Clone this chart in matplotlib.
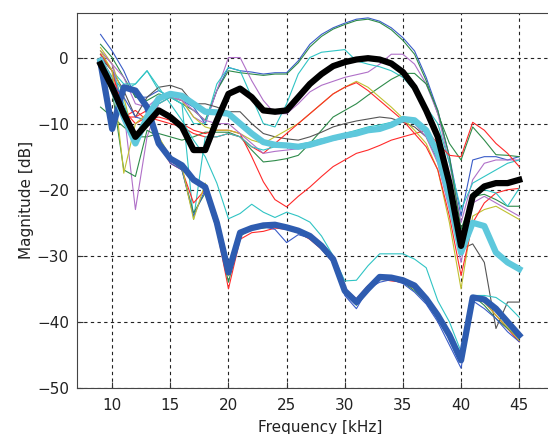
import numpy as np
import matplotlib
matplotlib.use('Agg')
import matplotlib.pyplot as plt

# frequency points [kHz]
freq = list(range(9, 46))

# thin lines (individual measurements)
blue1 = [3.5, 1, -2, -6, -6, -5, -6, -6.5, -7.5, -10, -5, -1.5, -2, -2.2, -2.5, -2.3, -2.3, -0.5, 2, 3.5, 4.5, 5.2, 5.8,
         6, 5.5, 4.5, 3, 1, -3, -8, -15, -24, -15.5, -15, -15, -15.5, -15]
green2 = [2, 0, -3, -6, -6.5, -5.5, -6, -7, -8, -9.5, -5, -2, -2.3, -2.5, -2.7, -2.5, -2.5, -0.8, 1.6, 3.2, 4.3, 5, 5.6,
          5.8, 5.3, 4.2, 2.6, 0.5, -3.5, -8.5, -13, -15.5, -10.5, -12.5, -14.7, -14.8, -15]
purple1 = [1, -1, -3, -7, -7.5, -6, -5.5, -6.5, -9, -10, -5, 0, 0, -3.5, -6.5, -8.5, -8.5, -7, -5.2, -4.2, -3.6, -3, -2.6,
           -2.2, -1, 0.5, 0.5, -1, -4, -8.5, -16, -25, -18.5, -16, -15.5, -15.5, -15.5]
cyan1 = [0, -2, -4, -4, -2, -5, -6, -7, -10, -10, -4, -1.5, -2, -6, -10, -10.5, -7, -2.5, 0, 0.8, 1, 1.2, -0.5,
         -1, -1.4, -2, -3, -5, -7.5, -10, -16, -23, -19, -18, -17, -16, -15.5]
green1 = [-7.5, -9, -10.5, -12, -12, -11.5, -12, -12.5, -12, -11.3, -11.3, -11.3, -12, -14, -15.8, -15.6, -15.3, -14.8,
          -13, -11, -9, -8, -7, -5.7, -4.5, -3.3, -2.4, -2.4, -4, -8, -15, -26, -21, -20.7, -21.5, -22.5, -22.5]
red1 = [0, -3, -9, -8, -9.5, -9, -9.5, -10, -11, -11.5, -11, -11, -11.5, -15, -18.8, -21.5, -22.6, -21, -19.6, -18,
        -16.5, -15.5, -14.5, -14, -13.3, -12.5, -12, -11.5, -11, -13, -14.8, -15, -9.8, -11, -13, -14.5, -16.5]
gray = [0, -2, -5, -9, -6, -4.5, -4.2, -4.8, -7, -7, -7.5, -8.2, -8.2, -10, -11.5, -12, -12.3, -12.5, -12, -11.3, -10.5,
        -10, -9.6, -9.3, -9, -9.2, -9.8, -10.5, -12, -15.5, -22, -29, -28.2, -31, -41, -37, -37]
yellow1 = [1.5, -1, -6, -13, -10, -7, -6, -6.5, -9, -10.5, -11, -11, -11.5, -12.5, -13, -12, -11, -10, -8.5, -7, -5.5,
           -4.5, -3.6, -4.5, -6, -7.5, -9.2, -11, -13, -17, -25, -35, -24, -23, -22.5, -23.5, -24.5]
red2 = [0.5, -2, -8, -10, -9, -9.5, -10, -10.5, -11.5, -12, -12, -11.5, -12, -13.5, -14.5, -13, -11.5, -10, -8.5, -7,
        -5.5, -4.5, -3.8, -5, -6.5, -8, -9.5, -11.5, -13.5, -17, -24, -33, -25, -22, -20.5, -20, -19.8]
purple2 = [1, -1, -8, -23, -12, -7, -6, -6.5, -8, -9.5, -10, -10, -11.5, -13, -14.5, -14.2, -14, -13.8, -13.5, -13,
           -12.5, -12.2, -11.8, -11.2, -10.5, -10, -9.5, -10, -12, -16, -23, -31, -22, -21, -22, -23, -24]
cyan3 = [0.5, -2, -7, -12, -9, -7, -6, -7, -24.5, -12, -12, -11.5, -12, -13.5, -14, -13.5, -13.5, -13.2, -12.8, -12.3,
         -12, -11.5, -11, -10.5, -10.2, -9.8, -9.5, -10, -11.5, -15, -20, -27, -21, -20, -20.5, -22.5, -19.8]
cyan2 = [0, -3, -5, -4, -2, -4.5, -7, -9.5, -12.5, -15, -19, -24.4, -23.6, -22.2, -23.4, -24.2, -23.4, -24, -24.9, -27,
         -30, -33.8, -33.7, -31.5, -29.7, -29.7, -29.7, -30.5, -31.8, -36.8, -40, -44.5, -36, -36, -36.3, -37.5, -39.3]
red3 = [0.5, -2, -9, -9, -8, -13, -16, -17, -22, -20, -26, -35, -27.5, -26.5, -26.3, -25.8, -26, -26.5, -27.5, -29, -31,
        -35, -36.5, -34.5, -33.5, -33.8, -34, -35, -36.5, -39, -42, -45, -36.5, -37, -39, -41, -43]
green3 = [-1, -5, -17, -18, -11, -12, -15.5, -17, -23.5, -20.5, -26, -34, -27, -26, -25.8, -25.5, -25.8, -26.3, -27.2,
          -28.5, -31, -35, -37.5, -35, -33.6, -33.6, -34, -35.3, -37, -39.5, -42.5, -45.5, -36, -37.5, -39.5, -41, -42.5]
blue2 = [0, -4, -6, -9, -9.5, -12.5, -16, -17, -24, -20, -25.5, -33, -26.5, -26, -25.6, -26, -28, -26.8, -27.3, -29,
         -31, -36, -38, -35, -34, -33.6, -34.2, -35.5, -37.3, -40, -43.5, -47, -36.8, -38, -39.5, -41.5, -43]
yellow2 = [1, -2, -17.5, -10, -8.5, -12, -15, -16.5, -24.5, -19, -24, -33, -26.5, -25.8, -25.5, -25.2, -25.5, -26,
           -27, -28.5, -30.5, -35, -37, -34.8, -33.4, -33.5, -33.9, -35, -36.8, -39.2, -42.3, -45.2, -36.2, -37,
           -39, -40.8, -42.8]

# thick lines (averages)
black_avg = [-1, -4.5, -8.5, -12, -10, -8, -9, -10.5, -14, -14, -9.5, -5.5, -4.7, -6, -8, -8.2, -8, -6, -4, -2.5, -1.3,
             -0.7, -0.3, -0.1, -0.3, -0.9, -2.2, -4.5, -8, -12, -19, -28.5, -21, -19.5, -19, -19, -18.5]
lightblue_avg = [-0.5, -4.5, -9, -13, -9, -6.2, -5.5, -5.8, -7, -8.2, -8.3, -8.5, -10, -11.5, -12.8, -13.2, -13.3, -13.5,
                 -13.2, -12.7, -12.2, -11.8, -11.5, -11, -10.8, -10.2, -9.3, -9.5, -11, -14.5, -21, -29.5, -25, -25.5,
                 -29.5, -31, -32]
darkblue_avg = [-0.8, -10.8, -4.5, -5, -7.5, -13, -15.3, -16.3, -18.5, -19.6, -25, -32.5, -26.5, -25.8, -25.4, -25.3,
                -25.7, -26.2, -27, -28.5, -30.5, -35.3, -37, -35, -33.2, -33.3, -33.7, -34.5, -36.5, -39, -42, -45.8,
                -36.3, -36.6, -38, -40, -42]

xticks = [10, 15, 20, 25, 30, 35, 40, 45]
yticks = [-50, -40, -30, -20, -10, 0]

plt.rcParams['font.family'] = ['DejaVu Sans']

fig = plt.figure(figsize=(5.48, 4.34), dpi=100)
ax = fig.add_axes([0.141, 0.106, 0.885, 0.865])

thin = [(blue1, '#3a5cc8'), (green2, '#2e8b4a'), (purple1, '#b070c8'), (cyan1, '#30c4c4'),
        (green1, '#2e8b4a'), (red1, '#ff2a2a'), (gray, '#555555'), (yellow1, '#c0c030'),
        (red2, '#ff2a2a'), (purple2, '#b070c8'), (cyan3, '#30c4c4'), (cyan2, '#30c4c4'),
        (red3, '#ff2a2a'), (green3, '#2e8b4a'), (blue2, '#3a5cc8'), (yellow2, '#c0c030')]
for vals, col in thin:
    ax.plot(freq, vals, color=col, lw=0.8)

ax.plot(freq, darkblue_avg, color='#2e5cb0', lw=4.5, solid_joinstyle='round')
ax.plot(freq, lightblue_avg, color='#5ec8dc', lw=4.5, solid_joinstyle='round')
ax.plot(freq, black_avg, color='black', lw=4.5, solid_joinstyle='round')

ax.set_xlim(7, 48.7)
ax.set_ylim(-50, 6.8)
ax.set_xticks(xticks)
ax.set_yticks(yticks)
ax.set_yticklabels(['\u221250', '\u221240', '\u221230', '\u221220', '\u221210', '0'])
ax.grid(True, color='#222222', linestyle=(0, (3, 3)), lw=0.8)
ax.tick_params(direction='in', labelsize=11, length=4, colors='#333333', labelcolor='#222222')
ax.tick_params(axis='x', pad=7)
ax.tick_params(axis='y', pad=6)
for s in ax.spines.values():
    s.set_color('#444444')
ax.set_xlabel('Frequency [kHz]', fontsize=11, color='#222222', labelpad=5)
ax.set_ylabel('Magnitude [dB]', fontsize=11, color='#222222', labelpad=2)

fig.savefig('out.png', dpi=100)
